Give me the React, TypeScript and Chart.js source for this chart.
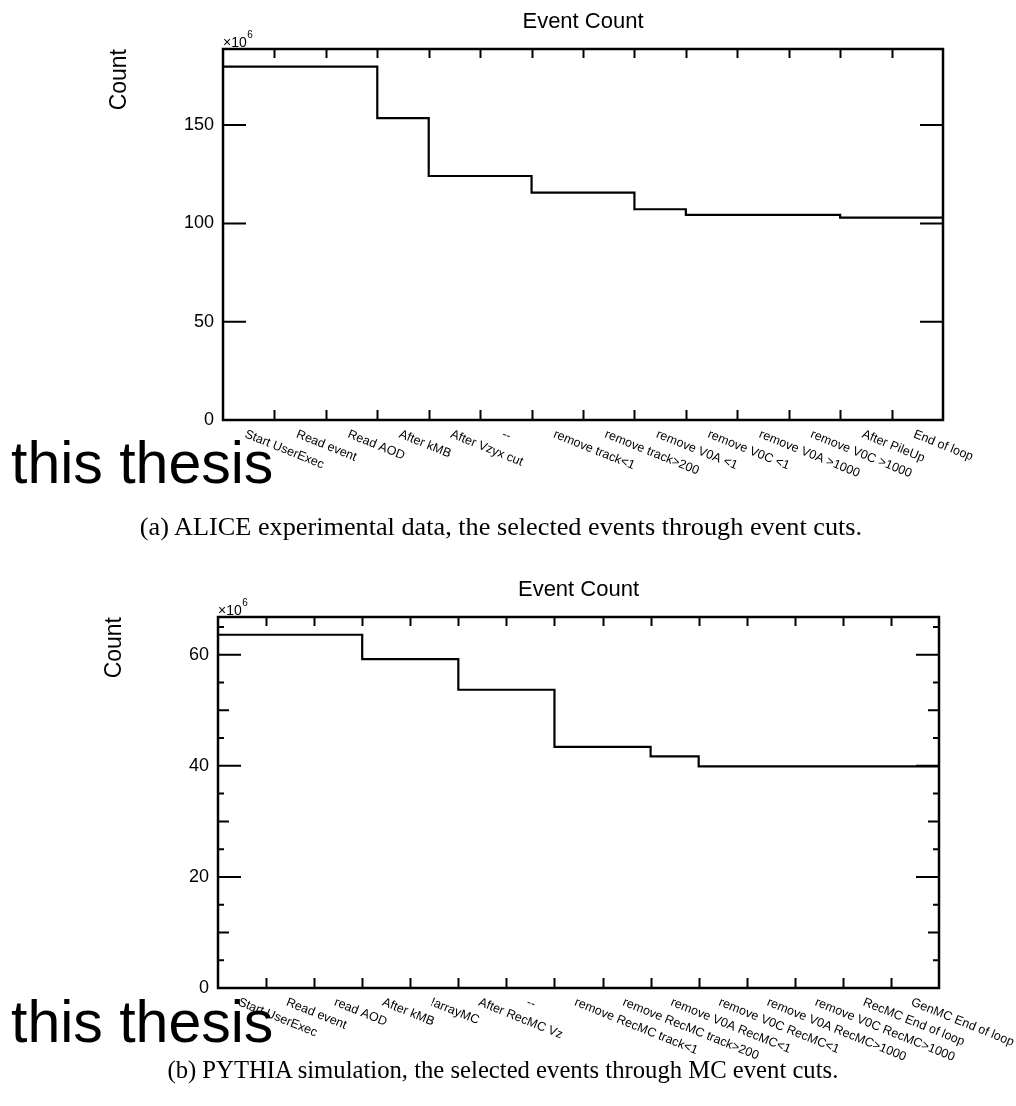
import React, { useEffect, useRef } from "react";
import { Chart, registerables } from "chart.js";

Chart.register(...registerables);

// ALICE data: selected events (×10^6) remaining after each event cut
const aliceCuts = [
  "Start UserExec",
  "Read event",
  "Read AOD",
  "After kMB",
  "After Vzyx cut",
  "--",
  "remove track<1",
  "remove track>200",
  "remove V0A <1",
  "remove V0C <1",
  "remove V0A >1000",
  "remove V0C >1000",
  "After PileUp",
  "End of loop",
];
const aliceCounts = [179.7, 179.7, 179.7, 153.5, 124.1, 124.1, 115.6, 115.6, 107.2, 104.3, 104.3, 104.3, 102.9, 102.9];
const aliceYMax = 188.7;
const aliceMajorTicks = [0, 50, 100, 150];
const aliceMidTicks: number[] = [];
const aliceMinorTicks: number[] = [];

// PYTHIA simulation: selected events (×10^6) remaining after each MC cut
const pythiaCuts = [
  "Start UserExec",
  "Read event",
  "read AOD",
  "After kMB",
  "!arrayMC",
  "After RecMC Vz",
  "--",
  "remove RecMC track<1",
  "remove RecMC track>200",
  "remove V0A RecMC<1",
  "remove V0C RecMC<1",
  "remove V0A RecMC>1000",
  "remove V0C RecMC>1000",
  "RecMC End of loop",
  "GenMC End of loop",
];
const pythiaCounts = [63.6, 63.6, 63.6, 59.2, 59.2, 53.7, 53.7, 43.4, 43.4, 41.7, 39.9, 39.9, 39.9, 39.9, 39.9];
const pythiaYMax = 66.8;
const pythiaMajorTicks = [0, 20, 40, 60];
const pythiaMidTicks = [10, 30, 50];
const pythiaMinorTicks = [5, 15, 25, 35, 45, 55, 65];

const SANS = '"Liberation Sans", Arial, Helvetica, sans-serif';

type PanelProps = {
  cuts: string[];
  counts: number[];
  yMax: number;
  major: number[];
  mid: number[];
  minor: number[];
  top: number;
  height: number;
  padding: { left: number; right: number; top: number; bottom: number };
  stampBaseline: number;
};

function rootStylePlugin(p: PanelProps) {
  return {
    id: "rootStyleFrame",
    afterDraw(chart: any) {
      const { ctx, chartArea: a } = chart;
      const xs = chart.scales.x;
      const ys = chart.scales.y;
      const n = p.cuts.length;
      ctx.save();
      ctx.strokeStyle = "#000";
      ctx.fillStyle = "#000";

      // frame
      ctx.lineWidth = 2.5;
      ctx.strokeRect(a.left, a.top, a.right - a.left, a.bottom - a.top);

      // x ticks at bin edges, top and bottom
      ctx.lineWidth = 2;
      ctx.beginPath();
      for (let i = 1; i < n; i++) {
        const px = Math.round(xs.getPixelForValue(i)) + 0.5;
        ctx.moveTo(px, a.bottom);
        ctx.lineTo(px, a.bottom - 10);
        ctx.moveTo(px, a.top);
        ctx.lineTo(px, a.top + 9);
      }
      ctx.stroke();

      // y ticks on both sides
      const yTick = (v: number, len: number) => {
        const py = ys.getPixelForValue(v);
        ctx.moveTo(a.left, py);
        ctx.lineTo(a.left + len, py);
        ctx.moveTo(a.right, py);
        ctx.lineTo(a.right - len, py);
      };
      ctx.beginPath();
      p.major.forEach((v) => yTick(v, 23));
      p.mid.forEach((v) => yTick(v, 11));
      p.minor.forEach((v) => yTick(v, 6));
      ctx.stroke();

      // y tick labels
      ctx.font = `18px ${SANS}`;
      ctx.textAlign = "right";
      ctx.textBaseline = "middle";
      p.major.forEach((v) => {
        ctx.fillText(String(v), a.left - 9, ys.getPixelForValue(v));
      });

      // x labels, rotated below each bin
      ctx.font = `12.5px ${SANS}`;
      ctx.textAlign = "left";
      ctx.textBaseline = "top";
      const ang = (22 * Math.PI) / 180;
      p.cuts.forEach((label, i) => {
        const cx = xs.getPixelForValue(i + 0.5);
        ctx.save();
        ctx.translate(cx - 1, a.bottom + 8);
        ctx.rotate(ang);
        ctx.fillText(label, 0, 0);
        ctx.restore();
      });

      // title
      ctx.font = `22px ${SANS}`;
      ctx.textAlign = "center";
      ctx.textBaseline = "alphabetic";
      ctx.fillText("Event Count", (a.left + a.right) / 2, a.top - 21);

      // y axis title
      ctx.save();
      ctx.translate(a.left - 103, a.top);
      ctx.rotate(-Math.PI / 2);
      ctx.textAlign = "right";
      ctx.textBaseline = "middle";
      ctx.font = `23px ${SANS}`;
      ctx.fillText("Count", 0, 0);
      ctx.restore();

      // exponent marker
      ctx.textAlign = "left";
      ctx.font = `14px ${SANS}`;
      ctx.fillText("×10", a.left, a.top - 2);
      const w = ctx.measureText("×10").width;
      ctx.font = `10px ${SANS}`;
      ctx.fillText("6", a.left + w + 0.5, a.top - 11);

      // stamp
      ctx.font = `59px ${SANS}`;
      ctx.fillText("this thesis", 11, p.stampBaseline);

      ctx.restore();
    },
  };
}

function EventCountPanel(p: PanelProps) {
  const ref = useRef<HTMLCanvasElement | null>(null);
  useEffect(() => {
    if (!ref.current) return;
    const n = p.cuts.length;
    const points = p.counts.map((c, i) => ({ x: i, y: c }));
    points.push({ x: n, y: p.counts[n - 1] });
    const chart = new Chart(ref.current, {
      type: "line",
      data: {
        datasets: [
          {
            data: points,
            stepped: "before",
            borderColor: "#000",
            borderWidth: 2.2,
            pointRadius: 0,
            fill: false,
          },
        ],
      },
      options: {
        responsive: false,
        animation: false,
        events: [],
        layout: { padding: p.padding },
        plugins: { legend: { display: false }, tooltip: { enabled: false }, title: { display: false } },
        scales: {
          x: { type: "linear", min: 0, max: n, display: false },
          y: { type: "linear", min: 0, max: p.yMax, display: false },
        },
      },
      plugins: [rootStylePlugin(p)],
    });
    return () => chart.destroy();
  }, []);
  return (
    <canvas
      ref={ref}
      width={1016}
      height={p.height}
      style={{ position: "absolute", left: 0, top: p.top, width: 1016, height: p.height }}
    />
  );
}

const captionStyle: React.CSSProperties = {
  position: "absolute",
  left: 0,
  width: 1002,
  textAlign: "center",
  fontFamily: '"Liberation Serif", "Times New Roman", serif',
  fontSize: 25,
  lineHeight: "30px",
  color: "#000",
  whiteSpace: "nowrap",
};

function Caption({ text, top, stretch, shift }: { text: string; top: number; stretch: number; shift: number }) {
  return (
    <div style={{ ...captionStyle, top, left: shift }}>
      <span style={{ display: "inline-block", transform: `scaleX(${stretch})`, transformOrigin: "center" }}>{text}</span>
    </div>
  );
}

export default function App() {
  return (
    <div style={{ position: "absolute", left: 0, top: 0, width: 1016, height: 1106, background: "#fff", overflow: "hidden" }}>
      <EventCountPanel
        cuts={aliceCuts}
        counts={aliceCounts}
        yMax={aliceYMax}
        major={aliceMajorTicks}
        mid={aliceMidTicks}
        minor={aliceMinorTicks}
        top={0}
        height={520}
        padding={{ left: 223, right: 73, top: 49, bottom: 100 }}
        stampBaseline={483}
      />
      <EventCountPanel
        cuts={pythiaCuts}
        counts={pythiaCounts}
        yMax={pythiaYMax}
        major={pythiaMajorTicks}
        mid={pythiaMidTicks}
        minor={pythiaMinorTicks}
        top={560}
        height={500}
        padding={{ left: 218, right: 77, top: 57, bottom: 72 }}
        stampBaseline={482}
      />
      <Caption
        text="(a) ALICE experimental data, the selected events through event cuts."
        top={512}
        stretch={1.05}
        shift={0}
      />
      <Caption
        text="(b) PYTHIA simulation, the selected events through MC event cuts."
        top={1055}
        stretch={0.987}
        shift={2}
      />
    </div>
  );
}
